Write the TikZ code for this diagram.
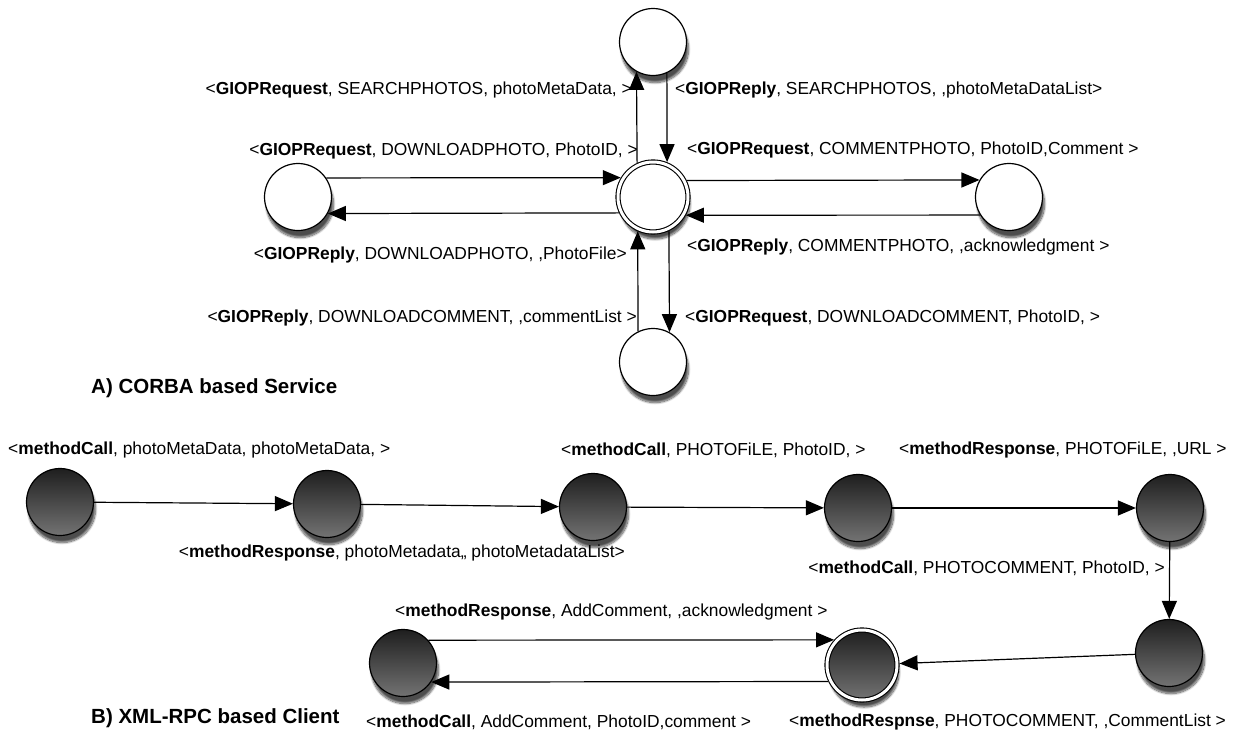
\documentclass[tikz,border=0pt]{standalone}
\usepackage{fontspec}
\setmainfont{Liberation Sans}
\usetikzlibrary{arrows.meta,shadows.blur}

\tikzset{every node/.style={font=\fontsize{17.4}{19}\selectfont}}
\tikzstyle{state}=[circle,draw,line width=1.2pt,fill=white,minimum size=67pt,inner sep=0pt,
    blur shadow={shadow xshift=2pt,shadow yshift=-7pt,shadow blur steps=12,shadow opacity=70}]
\tikzstyle{home}=[state,double,double distance=3pt,line width=1.1pt,minimum size=70pt,outer sep=2.6pt]
\tikzstyle{dark}=[state,top color=black!88,bottom color=black!55]
\tikzstyle{darkhome}=[home,top color=black!88,bottom color=black!55]
\tikzstyle{msg}=[inner sep=0pt]
\tikzstyle{trans}=[line width=1.2pt,-{Triangle[length=18pt,width=15pt]}]

\begin{document}
\begin{tikzpicture}[x=1pt,y=-1pt]
\useasboundingbox (0,0) rectangle (1235,731);
% A) CORBA based service
\node[home] (srv) at (653,197) {};
\node[state] (search) at (653,42) {};
\node[state] (dlphoto) at (298,197) {};
\node[state] (cmtphoto) at (1009,197) {};
\node[state] (dlcmt) at (653,362) {};

\draw[trans] (srv.115.2) -- (search.241.9);
\draw[trans] (search.294.3) -- (srv.68.1);
\draw[trans] (dlphoto.34) -- (srv.149.65);
\draw[trans] (srv.205.2) -- (dlphoto.331.9);
\draw[trans] (srv.26.9) -- (cmtphoto.150);
\draw[trans] (cmtphoto.212) -- (srv.331.4);
\draw[trans] (srv.295.2) -- (dlcmt.61.9);
\draw[trans] (dlcmt.116.2) -- (srv.246.5);

\node[msg,anchor=east] (q1) at (632,90) {<\textbf{GIOPRequest}, SEARCHPHOTOS, photoMetaData, >};
\node[msg,anchor=west] (q2) at (675,90) {<\textbf{GIOPReply}, SEARCHPHOTOS, ,photoMetaDataList>};
\node[msg,anchor=east] (q3) at (638,151) {<\textbf{GIOPRequest}, DOWNLOADPHOTO, PhotoID, >};
\node[msg,anchor=west] (q4) at (687,150) {<\textbf{GIOPRequest}, COMMENTPHOTO, PhotoID,Comment >};
\node[msg,anchor=east] (q5) at (627,255) {<\textbf{GIOPReply}, DOWNLOADPHOTO, ,PhotoFile>};
\node[msg,anchor=west] (q6) at (687,247) {<\textbf{GIOPReply}, COMMENTPHOTO, ,acknowledgment >};
\node[msg,anchor=east] (q7) at (637,318) {<\textbf{GIOPReply}, DOWNLOADCOMMENT, ,commentList >};
\node[msg,anchor=west] (q8) at (685,318) {<\textbf{GIOPRequest}, DOWNLOADCOMMENT, PhotoID, >};
\node[msg,anchor=west,font=\fontsize{20.5}{22}\selectfont\bfseries] (corba) at (91,388) {A) CORBA based Service};

% B) XML-RPC based client
\node[dark] (meta) at (60,502) {};
\node[dark] (metalist) at (327,504) {};
\node[dark] (file) at (593,507) {};
\node[dark] (url) at (858,508) {};
\node[dark] (cmt) at (1170,508) {};
\node[dark] (cmtlist) at (1169,653) {};
\node[darkhome] (final) at (862,665) {};
\node[dark] (add) at (403,663) {};

\draw[trans] (meta) -- (metalist);
\draw[trans] (metalist) -- (file);
\draw[trans] (file) -- (url);
\draw[trans] (url) -- (cmt);
\draw[trans] (cmt) -- (cmtlist);
\draw[trans] (cmtlist) -- (final);
\draw[trans] (add.42.6) -- (final.138.3);
\draw[trans] (final.206.9) -- (add.326);

\node[msg,anchor=west] (x1) at (8,450) {<\textbf{methodCall}, photoMetaData, photoMetaData, >};
\node[msg,anchor=east] (x2) at (625,553) {<\textbf{methodResponse}, photoMetadata,, photoMetadataList>};
\node[msg,anchor=west] (x3) at (561,450) {<\textbf{methodCall}, PHOTOFiLE, PhotoID, >};
\node[msg,anchor=west] (x4) at (899,450) {<\textbf{methodResponse}, PHOTOFiLE, ,URL >};
\node[msg,anchor=east] (x5) at (1165,568) {<\textbf{methodCall}, PHOTOCOMMENT, PhotoID, >};
\node[msg,anchor=west] (x6) at (395,612) {<\textbf{methodResponse}, AddComment, ,acknowledgment >};
\node[msg,anchor=west] (x7) at (366,722) {<\textbf{methodCall}, AddComment, PhotoID,comment >};
\node[msg,anchor=west] (x8) at (789,722) {<\textbf{methodRespnse}, PHOTOCOMMENT, ,CommentList >};
\node[msg,anchor=west,font=\fontsize{20.5}{22}\selectfont\bfseries] (xmlrpc) at (91,718) {B) XML-RPC based Client};
\end{tikzpicture}
\end{document}
